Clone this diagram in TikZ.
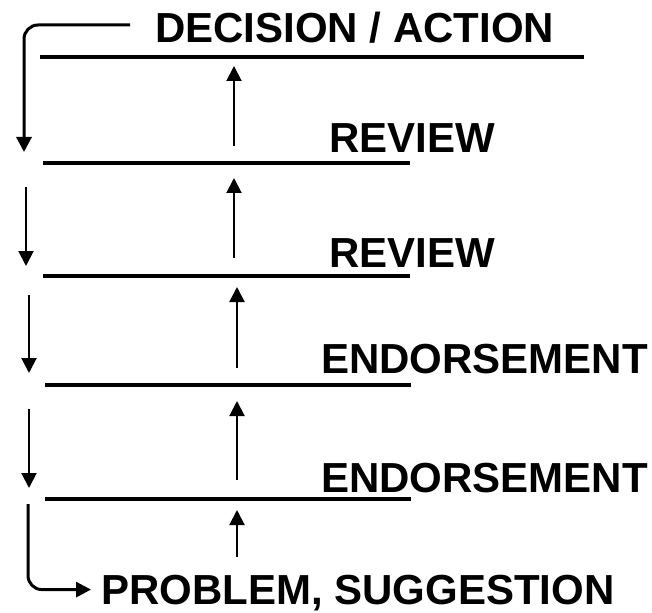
\documentclass[tikz,border=0pt]{standalone}
\usepackage{fontspec}
\setmainfont{Liberation Sans}
\usetikzlibrary{arrows.meta,positioning}

\begin{document}
\begin{tikzpicture}[x=1pt,y=-1pt,
    bar/.style={line width=3.5pt},
    flow/.style={line width=2pt,-{Triangle[width=15pt,length=15pt]}},
    loopback/.style={line width=3pt,rounded corners=14pt,-{Triangle[width=15pt,length=15pt]}},
    stage/.style={anchor=base west,inner sep=0pt,font=\fontsize{42}{48}\selectfont\bfseries}]
        \useasboundingbox (0,0) rectangle (652,612);

        % levels
        \node[stage] (decision) at (155,43) {DECISION / ACTION};
        \node[stage] (review1) at (329,153) {REVIEW};
        \node[stage] (review2) at (329,267) {REVIEW};
        \node[stage] (endorse1) at (321,373) {ENDORSEMENT};
        \node[stage] (endorse2) at (321,492) {ENDORSEMENT};
        \node[stage] (problem) at (101,604) {PROBLEM, SUGGESTION};

        % bars
        \foreach \i/\xa/\xb/\y in {1/40/584/57, 2/43/410/163, 3/43/410/276,
                                   4/45/411/385, 5/45/411/499} {
          \coordinate (bar\i w) at (\xa,\y);
          \coordinate (bar\i e) at (\xb,\y);
          \draw[bar] (bar\i w) -- (bar\i e);
        }

        % upward path
        \foreach \i/\x/\ya/\yb in {1/234/146/66, 2/234/258/178, 3/237/368/287,
                                   4/237/480/401, 5/237/557/510} {
          \coordinate (up\i a) at (\x,\ya);
          \coordinate (up\i b) at (\x,\yb);
          \draw[flow] (up\i a) -- (up\i b);
        }

        % downward path
        \foreach \i/\x/\ya/\yb in {2/26/187/266, 3/29/295/373, 4/29/409/488} {
          \coordinate (down\i a) at (\x,\ya);
          \coordinate (down\i b) at (\x,\yb);
          \draw[flow] (down\i a) -- (down\i b);
        }

        \coordinate (loopin) at (130,25);
        \coordinate (down1b) at (24,152);
        \draw[loopback] (loopin) -| (down1b);

        \coordinate (loopout) at (28,504);
        \draw[loopback,shorten >=10pt] (loopout) |- ([yshift=3pt]problem.west);
\end{tikzpicture}
\end{document}
